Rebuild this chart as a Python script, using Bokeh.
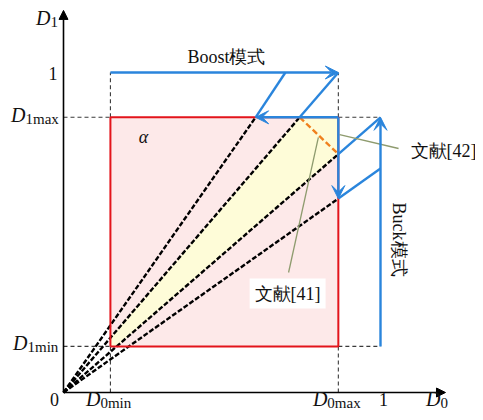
import math
from bokeh.plotting import figure
from bokeh.models import Range1d, Arrow, VeeHead, NormalHead, Label
from bokeh.embed import file_html
from bokeh.resources import INLINE

# ---- data (duty-cycle plane) ----
D0_min, D0_max = 0.148, 0.867
D1_min, D1_max = 0.144, 0.860
A, B, C = 0.606, 0.700, 0.745      # turning points of the Boost / Buck paths
X_END, Y_END = 1.205, 1.194        # axis arrow tips

# leader lines (annotation pointers)
lead42_x = [0.871, 1.057]
lead42_y = [0.806, 0.7625]
lead41_x = [0.804, 0.710]
lead41_y = [0.797, 0.375]

# ---- colours ----
BLUE = "#2a85dc"
RED = "#e3141b"
PINK = "#fde9e9"
YELLOW = "#fefcd8"
ORANGE = "#f0801e"
GREY = "#3a3a3a"
LEAD = "#8e9b6e"
TXT = "#111111"
SERIF = "Liberation Serif"

W, H = 475, 412
ox, oy = 63, 392
sx, sy = 317.0, 320.0
p = figure(width=W, height=H, output_backend="svg", toolbar_location=None,
           x_range=Range1d(-ox / sx, (W - ox) / sx),
           y_range=Range1d(-(H - oy) / sy, oy / sy),
           x_axis_type=None, y_axis_type=None, min_border=0,
           outline_line_color=None, background_fill_color="white")
p.grid.visible = False

# operating region fill
p.patch([D0_min, D0_max, D0_max, D0_min], [D1_min, D1_min, D1_max, D1_max],
        fill_color=PINK, line_color=None)

# wedge between the two middle dashed lines (clipped to the region)
k2 = D1_max / C          # slope of line to (C, D1max)
k3 = C / D0_max          # slope of line to (D0max, C)
yx = [D0_min, C, D0_max, D0_max, D1_min / k3, D0_min]
yy = [k2 * D0_min, D1_max, D1_max, C, D1_min, D1_min]
p.patch(yx, yy, fill_color=YELLOW, line_color=None)

# grey dashed guide lines
gx = [[0, D0_min], [0, D0_min], [D0_min, D0_min], [D0_max, D0_max],
      [D0_min, D0_min], [D0_max, D0_max], [D0_max, 1], [D0_max, 1]]
gy = [[D1_max, D1_max], [D1_min, D1_min], [0, D1_min], [0, D1_min],
      [D1_max, 1], [D1_max, 1], [D1_max, D1_max], [D1_min, D1_min]]
p.multi_line(gx, gy, line_color=GREY, line_width=1.1, line_dash="4 3")

# black dashed rays from the origin
bx = [[0, A], [0, C], [0, D0_max], [0, D0_max]]
by = [[0, D1_max], [0, D1_max], [0, C], [0, A]]
p.multi_line(bx, by, line_color="black", line_width=2.4, line_dash="5 2")

# orange dashed segment
p.line([C, D0_max], [D1_max, C], line_color=ORANGE, line_width=2.4, line_dash="6 3")

# red region outline
p.line([D0_min, D0_max, D0_max, D0_min, D0_min],
       [D1_min, D1_min, D1_max, D1_max, D1_min], line_color=RED, line_width=2)

# blue mode paths (diagonal transitions)
dx = [[B, A], [D0_max, C], [1, D0_max], [1, D0_max]]
dy = [[1, D1_max], [1, D1_max], [D1_max, C], [B, A]]
p.multi_line(dx, dy, line_color=BLUE, line_width=2.4)


def blue_arrow(x0, y0, x1, y1):
    p.add_layout(Arrow(end=VeeHead(size=13, fill_color=BLUE, line_color=BLUE, line_width=1),
                       x_start=x0, y_start=y0, x_end=x1, y_end=y1,
                       line_color=BLUE, line_width=2.4))


blue_arrow(D0_min, 1, D0_max, 1)
blue_arrow(D0_max, D1_max, A, D1_max)
blue_arrow(D0_max, D1_max, D0_max, A)
blue_arrow(1, D1_min, 1, D1_max)

# leader lines
p.line(lead42_x, lead42_y, line_color=LEAD, line_width=1.3)
p.line(lead41_x, lead41_y, line_color=LEAD, line_width=1.3)

# coordinate axes
for xe, ye in [(X_END, 0), (0, Y_END)]:
    p.add_layout(Arrow(end=NormalHead(size=9, fill_color="black", line_color="black"),
                       x_start=0, y_start=0, x_end=xe, y_end=ye,
                       line_color="black", line_width=1.6))


def txt(x, y, s, size, align="left", style="normal", xo=0, yo=0, angle=0.0, **kw):
    # yo is given as a downward screen offset; all texts are anchored at their middle
    p.add_layout(Label(x=x, y=y, text=s, text_font=SERIF, text_font_size=f"{size}px",
                       text_align=align, text_baseline="middle", text_font_style=style,
                       x_offset=xo, y_offset=-yo, angle=angle, text_color=TXT, **kw))


def dlabel(x, y, sub, xo, yo):
    txt(x, y, "D", 20, align="right", style="italic", xo=xo, yo=yo)
    txt(x, y, sub, 15, align="left", xo=xo, yo=yo + 4)


# y-axis labels
txt(0, 1, "1", 18, align="right", xo=-6, yo=1)
dlabel(0, D1_max, "1max", -38, -2)
dlabel(0, D1_min, "1min", -36, -3)
dlabel(0, 1.15, "1", -13, -7)
# x-axis labels
txt(0, 0, "0", 18, align="center", xo=-9, yo=7)
dlabel(D0_min, 0, "0min", -10, 6)
dlabel(D0_max, 0, "0max", -11, 6)
txt(1, 0, "1", 18, align="center", xo=3, yo=7)
dlabel(X_END, 0, "0", -5, 6)

# annotations
txt(0.252, 0.797, "α", 18, align="center", style="italic")
txt(0.514, 1.047, "Boost模式", 18, align="center")
txt(1.057, 0.478, "Buck模式", 18, align="center", angle=-math.pi / 2)
txt(1.095, 0.756, "文献[42]", 18, align="left")
txt(0.707, 0.309, "文献[41]", 18, align="center",
    background_fill_color="white", padding=5)

open("out.html", "w").write(file_html(p, INLINE))
